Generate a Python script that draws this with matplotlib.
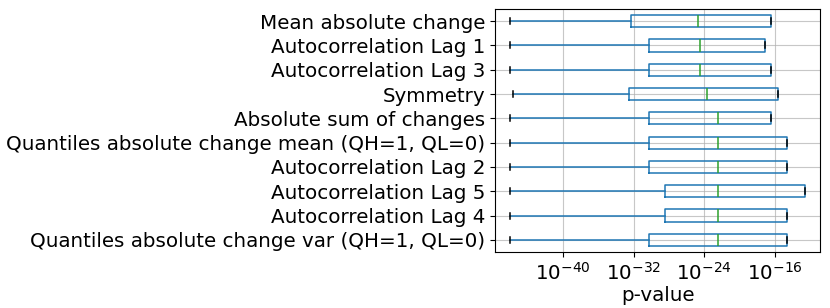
import matplotlib
matplotlib.use("Agg")
import matplotlib.pyplot as plt
import numpy as np

# top-to-bottom order as in the reference
labels = [
    "Mean absolute change",
    "Autocorrelation Lag 1",
    "Autocorrelation Lag 3",
    "Symmetry",
    "Absolute sum of changes",
    "Quantiles absolute change mean (QH=1, QL=0)",
    "Autocorrelation Lag 2",
    "Autocorrelation Lag 5",
    "Autocorrelation Lag 4",
    "Quantiles absolute change var (QH=1, QL=0)",
]
# log10 of p-values
whislo_exp = [-46.0, -46.0, -46.0, -45.7, -46.0, -46.0, -46.0, -46.0, -46.0, -46.0]
q1_exp     = [-32.3, -30.3, -30.3, -32.5, -30.3, -30.3, -30.3, -28.4, -28.4, -30.3]
med_exp    = [-24.7, -24.5, -24.5, -23.7, -22.5, -22.5, -22.5, -22.5, -22.5, -22.5]
q3_exp     = [-16.5, -17.15, -16.5, -15.6, -16.5, -14.6, -14.6, -12.6, -14.6, -14.6]

stats = []
for i in range(len(labels)):
    stats.append(dict(
        label=labels[i],
        whislo=10.0 ** whislo_exp[i],
        q1=10.0 ** q1_exp[i],
        med=10.0 ** med_exp[i],
        q3=10.0 ** q3_exp[i],
        whishi=10.0 ** q3_exp[i],
        fliers=[],
    ))
# matplotlib places the first item at the bottom
stats = stats[::-1]

fig = plt.figure(figsize=(8.3, 3.08), dpi=100)
ax = fig.add_axes([495 / 830, 1 - 252 / 308, (820 - 495) / 830, (252 - 9) / 308])
ax.set_xscale("log")
ax.bxp(stats, vert=False, widths=0.5, showfliers=False,
       boxprops=dict(color="#1f77b4", linewidth=1.1),
       whiskerprops=dict(color="#1f77b4", linewidth=1.1),
       medianprops=dict(color="#2ca02c", linewidth=1.1),
       capprops=dict(color="k", linewidth=1.1))
ax.set_xlim(10.0 ** -47.7, 10.0 ** -10.9)
ax.set_xticks([1e-40, 1e-32, 1e-24, 1e-16])
ax.xaxis.set_minor_locator(matplotlib.ticker.NullLocator())
ax.grid(True, color="#b0b0b0", linewidth=0.8, alpha=0.7)
ax.set_axisbelow(True)
ax.tick_params(axis="both", labelsize=14.3)
ax.set_xlabel("p-value", fontsize=14.3, labelpad=2)
fig.savefig("out.png", dpi=100)
